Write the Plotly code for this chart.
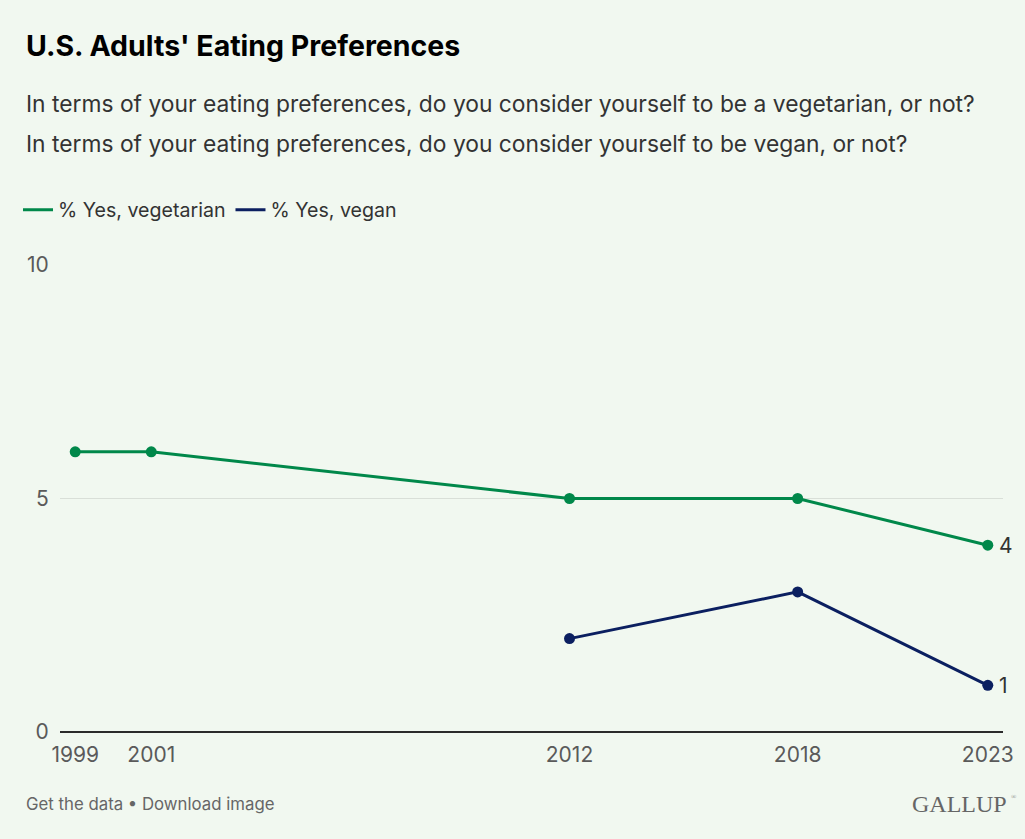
import plotly.graph_objects as go

# survey data
years = [1999, 2001, 2012, 2018, 2023]
vegetarian = [6, 6, 5, 5, 4]
vegan_years = [2012, 2018, 2023]
vegan = [2, 3, 1]

series_names = ['% Yes, vegetarian', '% Yes, vegan']
colors = ['#00884a', '#0b1f60']

BG = '#f1f8f0'
FONT = 'Inter, Roboto, sans-serif'

W, H = 1025, 839
L, R, T, B = 60, 22, 265, 107


def px(x):
    return (x - L) / (W - L - R)


def py(y):
    return (H - B - y) / (H - T - B)


fig = go.Figure()

fig.add_trace(go.Scatter(x=years, y=vegetarian, mode='lines+markers',
                         line=dict(color=colors[0], width=3),
                         marker=dict(size=11, color=colors[0]),
                         showlegend=False, hoverinfo='x+y'))
fig.add_trace(go.Scatter(x=vegan_years, y=vegan, mode='lines+markers',
                         line=dict(color=colors[1], width=3),
                         marker=dict(size=11, color=colors[1]),
                         showlegend=False, hoverinfo='x+y'))

# legend-only entries (no markers in legend)
for name, c in zip(series_names, colors):
    fig.add_trace(go.Scatter(x=[None], y=[None], mode='lines', name=name,
                             line=dict(color=c, width=3)))

# end value labels
for xs, ys in [(years, vegetarian), (vegan_years, vegan)]:
    fig.add_annotation(x=xs[-1], y=ys[-1], text=str(ys[-1]), showarrow=False,
                       xanchor='left', xshift=9,
                       font=dict(family=FONT, size=21, color='#333333'))

fig.add_annotation(xref='paper', yref='paper', x=px(24), y=py(45),
                   text="<b>U.S. Adults' Eating Preferences</b>", showarrow=False,
                   xanchor='left', yanchor='middle',
                   font=dict(family=FONT, size=28.5, color='#000000'))
fig.add_annotation(xref='paper', yref='paper', x=px(24), y=py(103),
                   text='In terms of your eating preferences, do you consider yourself to be a vegetarian, or not?',
                   showarrow=False, xanchor='left', yanchor='middle',
                   font=dict(family=FONT, size=22.8, color='#333333'))
fig.add_annotation(xref='paper', yref='paper', x=px(24), y=py(143),
                   text='In terms of your eating preferences, do you consider yourself to be vegan, or not?',
                   showarrow=False, xanchor='left', yanchor='middle',
                   font=dict(family=FONT, size=22.8, color='#333333'))
fig.add_annotation(xref='paper', yref='paper', x=px(24), y=py(804),
                   text='Get the data • Download image', showarrow=False,
                   xanchor='left', yanchor='middle',
                   font=dict(family=FONT, size=16.8, color='#666666'))
fig.add_annotation(xref='paper', yref='paper', x=px(1009), y=py(804),
                   text='GALLUP', showarrow=False,
                   xanchor='right', yanchor='middle',
                   font=dict(family='Liberation Serif, DejaVu Serif, serif', size=24, color='#666666'))
fig.add_annotation(xref='paper', yref='paper', x=px(1009), y=py(797),
                   text='®', showarrow=False,
                   xanchor='left', yanchor='middle',
                   font=dict(family='Liberation Serif, DejaVu Serif, serif', size=7, color='#888888'))

fig.update_layout(
    width=W, height=H,
    margin=dict(l=L, r=R, t=T, b=B),
    paper_bgcolor=BG, plot_bgcolor=BG,
    font=dict(family=FONT, color='#333333'),
    legend=dict(orientation='h', x=px(18), y=py(210), xanchor='left', yanchor='middle',
                font=dict(family=FONT, size=19.6, color='#333333'),
                bgcolor='rgba(0,0,0,0)', itemwidth=30, tracegroupgap=0),
    hovermode='closest',
)
fig.update_xaxes(range=[1998.6, 2023.4], tickvals=years, ticktext=[str(y) for y in years],
                 showgrid=False, zeroline=False, showline=False,
                 ticks='outside', ticklen=4, tickcolor=BG,
                 tickfont=dict(family=FONT, size=21, color='#5a5a5a'))
fig.update_yaxes(range=[0, 10], tickvals=[0, 5, 10], showgrid=True, gridcolor='#d9dfd8', gridwidth=1,
                 zeroline=True, zerolinecolor='#2b2b2b', zerolinewidth=2, showline=False,
                 ticks='outside', ticklen=6, tickcolor=BG,
                 tickfont=dict(family=FONT, size=21, color='#5a5a5a'))

fig.write_html('out.html', config={'displayModeBar': False},
               post_script="document.body.style.margin='0';document.body.style.background='%s';" % BG)
